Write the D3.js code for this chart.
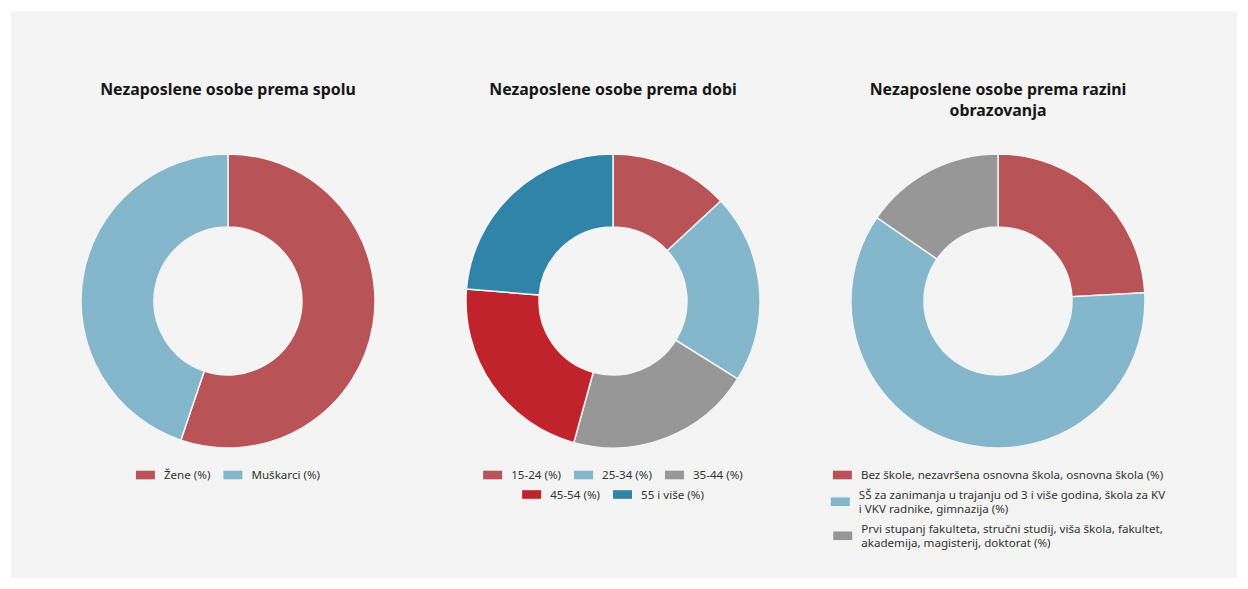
<!DOCTYPE html>
<html><head><meta charset="utf-8">
<script src="https://cdn.jsdelivr.net/npm/d3@7"></script>
<style>body{margin:0;background:#fff}svg{display:block}</style>
</head><body><svg id="c" width="1248" height="589"></svg>
<script>
const titles = [["Nezaposlene osobe prema spolu"], ["Nezaposlene osobe prema dobi"], ["Nezaposlene osobe prema razini", "obrazovanja"]];
const genderCategories = ["Žene (%)", "Muškarci (%)"];
const genderValues = [55.2, 44.8];
const ageCategories = ["15-24 (%)", "25-34 (%)", "35-44 (%)", "45-54 (%)", "55 i više (%)"];
const ageValues = [13.1, 20.8, 20.4, 22.0, 23.7];
const eduCategories = ["Bez škole, nezavršena osnovna škola, osnovna škola (%)",
  "SŠ za zanimanja u trajanju od 3 i više godina, škola za KV i VKV radnike, gimnazija (%)",
  "Prvi stupanj fakulteta, stručni studij, viša škola, fakultet, akademija, magisterij, doktorat (%)"];
const eduValues = [24.1, 60.5, 15.4];

const palette = ["#b85357", "#84b6cc", "#979797", "#c1232b", "#2f84a7"];
const FONT = "'Noto Sans', sans-serif";
const LFS = 11.6;

const svg = d3.select("#c");
svg.append("rect").attr("x", 11).attr("y", 11).attr("width", 1226).attr("height", 567).attr("fill", "#f4f4f4");

const charts = [
  {title: titles[0], cats: genderCategories, vals: genderValues, legendW: 300, textW: 330},
  {title: titles[1], cats: ageCategories, vals: ageValues, legendW: 300, textW: 330},
  {title: titles[2], cats: eduCategories, vals: eduValues, legendW: 300, textW: 309}
];

const xPos = d3.scaleBand().domain(d3.range(charts.length)).range([35.5, 35.5 + 385 * 3]);
const cy = 301, rOuter = 147, rInner = 74;
const pie = d3.pie().sort(null).value(d => d);
const arc = d3.arc().innerRadius(rInner).outerRadius(rOuter);

function wrap(text, maxW, measure) {
  const words = text.split(" ");
  const lines = [];
  let cur = "";
  words.forEach(w => {
    const t = cur ? cur + " " + w : w;
    if (cur && measure(t) > maxW) { lines.push(cur); cur = w; } else cur = t;
  });
  if (cur) lines.push(cur);
  return lines;
}

const measurer = svg.append("text").attr("font-family", FONT).attr("font-size", LFS).attr("visibility", "hidden");
const measure = s => { measurer.text(s); return measurer.node().getComputedTextLength(); };

charts.forEach((c, i) => {
  const cx = xPos(i) + xPos.bandwidth() / 2;
  const g = svg.append("g");
  // title
  const t = g.append("text").attr("text-anchor", "middle").attr("font-family", FONT)
    .attr("font-weight", "bold").attr("font-size", 15.9).attr("fill", "#161616");
  c.title.forEach((line, k) => t.append("tspan").attr("x", cx).attr("y", 95 + k * 21).text(line));
  // donut
  const color = d3.scaleOrdinal().domain(c.cats).range(palette);
  g.append("g").attr("transform", `translate(${cx},${cy})`)
    .selectAll("path").data(pie(c.vals)).join("path")
    .attr("d", arc).attr("fill", (d, k) => color(c.cats[k]))
    .attr("stroke", "#f4f4f4").attr("stroke-width", 1.5).attr("stroke-linejoin", "round");
  // legend layout
  const sw = 19, gap = 9, spacing = 13, lineH = 14.5, rowGap = 19.5;
  const items = c.cats.map(cat => {
    const lines = wrap(cat, c.textW, measure);
    const tw = d3.max(lines, measure);
    return {cat, lines, w: sw + gap + tw, color: color(cat)};
  });
  const rows = [];
  let row = [], rw = 0;
  items.forEach(it => {
    const nw = rw + (row.length ? spacing : 0) + it.w;
    if (row.length && nw > c.legendW) { rows.push({items: row, w: rw}); row = [it]; rw = it.w; }
    else { row.push(it); rw = nw; }
  });
  if (row.length) rows.push({items: row, w: rw});
  let base = 479;
  const lg = g.append("g");
  rows.forEach(r => {
    let x = cx - r.w / 2;
    const nLines = d3.max(r.items, it => it.lines.length);
    r.items.forEach(it => {
      const midY = base - 4 + (it.lines.length - 1) * lineH / 2;
      lg.append("rect").attr("x", x).attr("y", midY - 4.3).attr("width", sw).attr("height", 8.6).attr("fill", it.color);
      it.lines.forEach((ln, k) => lg.append("text").attr("font-family", FONT).attr("font-size", LFS).attr("fill", "#333")
        .attr("x", x + sw + gap).attr("y", base + k * lineH).text(ln));
      x += it.w + spacing;
    });
    base += (nLines - 1) * lineH + rowGap;
  });
});
measurer.remove();
</script></body></html>
